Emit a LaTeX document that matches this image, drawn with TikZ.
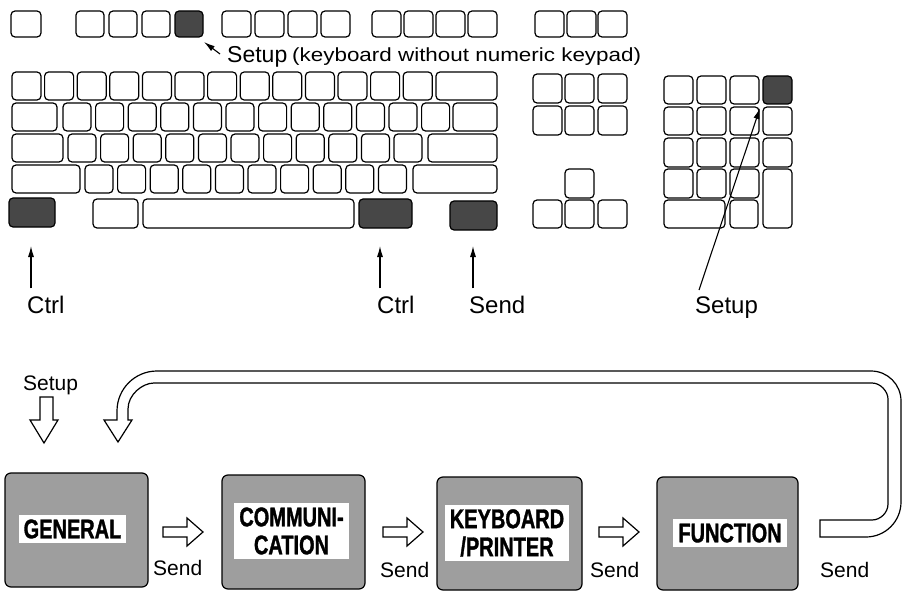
\documentclass[tikz,border=0pt]{standalone}
\usepackage{fontspec}
\usepackage{graphicx}
\setmainfont{Liberation Sans}
\newfontfamily\condb[FakeStretch=0.74,FakeBold=1.2]{Liberation Sans}
\usetikzlibrary{arrows.meta}
\tikzset{
  key/.style={draw=black, line width=1.2pt, rounded corners=4pt, fill=white},
  darkkey/.style={key, fill=black!72},
  panel/.style={draw=black, line width=1.2pt, rounded corners=6pt, fill=black!38, minimum width=143pt, minimum height=114pt, inner sep=0pt},
  plabel/.style={fill=white, inner xsep=5pt, inner ysep=4pt, font=\condb\bfseries\fontsize{27}{28}\selectfont, align=center},
  ptr/.style={line width=1.1pt, -{Latex[length=11pt,width=6pt]}},
  hollow/.style={draw=black, line width=1.2pt, fill=white, line join=miter},
  lab/.style={inner sep=0pt, font=\fontsize{24}{26}\selectfont},
  slab/.style={inner sep=0pt, font=\fontsize{21}{24}\selectfont}
}
\begin{document}
\begin{tikzpicture}[x=1pt,y=-1pt]
\useasboundingbox (0,0) rectangle (903,591);

% ---------- function key row ----------
\draw[key] (11,11) rectangle ++(30,26);
\foreach \x in {76,109,142} \draw[key] (\x,11) rectangle ++(28,26);
\draw[darkkey] (175,11) rectangle ++(28,26);
\foreach \x in {222,255,288,321} \draw[key] (\x,11) rectangle ++(29,26);
\foreach \x in {372,404,436,468} \draw[key] (\x,11) rectangle ++(29,26);
\foreach \x in {535,567,598} \draw[key] (\x,11) rectangle ++(29,26);

% ---------- main block ----------
\foreach \i in {0,...,12} \draw[key] ({12+32.6*\i},72) rectangle ++(29,28);
\draw[key] (436,72) rectangle ++(61,28);

\draw[key] (12,103) rectangle ++(45,28);
\foreach \i in {0,...,11} \draw[key] ({63+32.6*\i},103) rectangle ++(28,28);
\draw[key] (453,103) rectangle ++(44,28);

\draw[key] (12,134) rectangle ++(51,28);
\foreach \i in {0,...,10} \draw[key] ({68+32.6*\i},134) rectangle ++(28,28);
\draw[key] (428,134) rectangle ++(69,28);

\draw[key] (12,165) rectangle ++(68,28);
\foreach \i in {0,...,9} \draw[key] ({85+32.6*\i},165) rectangle ++(28,28);
\draw[key] (413,165) rectangle ++(84,28);

\draw[darkkey] (9,198) rectangle ++(46,29);
\draw[key] (93,199) rectangle ++(45,29);
\draw[key] (143,199) rectangle ++(211,29);
\draw[darkkey] (359,199) rectangle ++(53,29);
\draw[darkkey] (450,201) rectangle ++(47,29);

% ---------- editing / cursor block ----------
\foreach \x in {533,565,598} {
  \draw[key] (\x,74) rectangle ++(29,29);
  \draw[key] (\x,106) rectangle ++(29,29);
  \draw[key] (\x,200) rectangle ++(29,28);
}
\draw[key] (565,169) rectangle ++(29,29);

% ---------- numeric keypad ----------
\foreach \x in {664,697,730} \draw[key] (\x,76) rectangle ++(29,28);
\draw[darkkey] (763,76) rectangle ++(29,28);
\foreach \x in {664,697,730,763} {
  \draw[key] (\x,107) rectangle ++(29,28);
  \draw[key] (\x,138) rectangle ++(29,29);
}
\foreach \x in {664,697,730} \draw[key] (\x,169) rectangle ++(29,29);
\draw[key] (763,169) rectangle ++(29,59);
\draw[key] (664,200) rectangle ++(61,28);
\draw[key] (730,200) rectangle ++(28,28);

% ---------- key labels with pointers ----------
\node[anchor=base west, inner sep=0pt, font=\fontsize{23}{25}\selectfont] (setupF) at (227,63) {Setup};
\node[anchor=base west, inner sep=0pt] (nokp) at (292,62)
  {\scalebox{1.18}[1]{\fontsize{19}{21}\selectfont (keyboard without numeric keypad)}};
\coordinate (tipF) at (204,42);
\draw[ptr] ([xshift=-7pt,yshift=9pt]setupF.base west) -- (tipF);

\node[lab, anchor=base west] (ctrlL) at (27,313) {Ctrl};
\node[lab, anchor=base west] (ctrlR) at (377,313) {Ctrl};
\node[lab, anchor=base west] (sendK) at (469,313) {Send};
\node[lab, anchor=base west] (setupK) at (695,313) {Setup};
\coordinate (tipCL) at (31,246);
\coordinate (tipCR) at (380,246);
\coordinate (tipS) at (473,246);
\coordinate (tipSU) at (760,108);
\coordinate (footSU) at (699,290);
\draw[ptr] (ctrlL.north -| tipCL) ++(0,-7) coordinate (a1) -- (tipCL);
\draw[ptr] (ctrlR.north -| tipCR) ++(0,-7) coordinate (a2) -- (tipCR);
\draw[ptr] (sendK.north -| tipS) ++(0,-7) coordinate (a3) -- (tipS);
\draw[ptr] (footSU) -- (tipSU);

% ---------- setup mode panels ----------
\node[panel] (gen) at (76.5,530) {};
\node[panel] (comm) at (293.5,532) {};
\node[panel, minimum width=145pt, minimum height=113pt] (kbd) at (509.5,533.5) {};
\node[panel, minimum width=141pt, minimum height=113pt] (func) at (727.5,533.5) {};

\node[plabel] (genL) at (72.5,529) {GENERAL};
\node[plabel] (commL) at (291.5,531) {COMMUNI-\\CATION};
\node[plabel] (kbdL) at (507,533) {KEYBOARD\\/PRINTER};
\node[plabel] (funcL) at (730,533) {FUNCTION};

% hollow right arrows between panels
\foreach \nm/\x in {ar1/163, ar2/383, ar3/599} {
  \draw[hollow] (\x,527) -- ++(24,0) -- ++(0,-9) -- ++(16,14) -- ++(-16,14) -- ++(0,-9) -- ++(-24,0) -- cycle;
}
\node[slab, anchor=base west] (s1) at (153,575) {Send};
\node[slab, anchor=base west] (s2) at (380,577) {Send};
\node[slab, anchor=base west] (s3) at (590,577) {Send};
\node[slab, anchor=base west] (s4) at (820,577) {Send};

% entry arrow
\node[slab, anchor=base west] (setupE) at (23,390) {Setup};
\draw[hollow] (40,397) -- (53,397) -- (53,420) -- (58,420) -- (44,443) -- (30,420) -- (40,420) -- cycle;

% loop arrow back to GENERAL
\draw[hollow] (104,420) -- (118,442) -- (132,420) -- (128,420) -- (128,409)
  .. controls (128,394.6) and (142.4,383) .. (154,383)
  -- (872,383) .. controls (880.8,383) and (888,391.8) .. (888,399)
  -- (888,504) .. controls (888,512.8) and (880.3,520) .. (872,520)
  -- (820,520) -- (820,537) -- (866,537)
  .. controls (885.3,537) and (901,521.3) .. (901,502)
  -- (901,401) .. controls (901,384.4) and (887.6,371) .. (871,371)
  -- (157,371) .. controls (134.9,371) and (117,388.9) .. (117,411)
  -- (117,420) -- cycle;
\end{tikzpicture}
\end{document}
